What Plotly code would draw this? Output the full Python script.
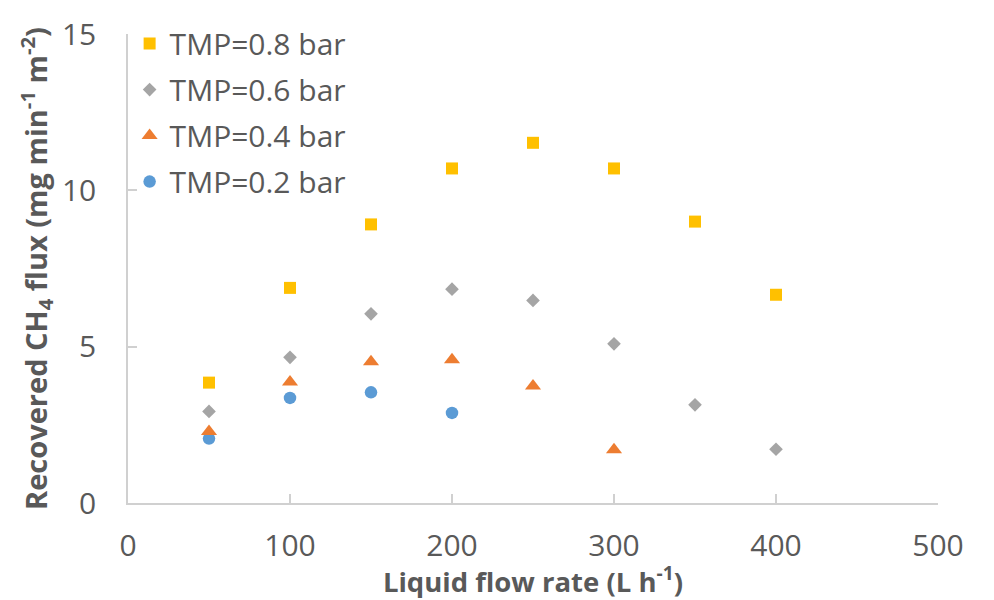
import plotly.graph_objects as go

flow = [50, 100, 150, 200, 250, 300, 350, 400]
tmp08 = [3.85, 6.88, 8.91, 10.70, 11.52, 10.70, 9.00, 6.66]
tmp06 = [2.93, 4.66, 6.05, 6.84, 6.48, 5.09, 3.14, 1.72]
tmp04 = [2.29, 3.87, 4.52, 4.58, 3.74, 1.70]
tmp02 = [2.06, 3.36, 3.54, 2.88]

series = [
    ("TMP=0.2 bar", tmp02, "circle", "#5B9BD5", 12.5, 4),
    ("TMP=0.4 bar", tmp04, "triangle-up", "#ED7D31", 14, 3),
    ("TMP=0.6 bar", tmp06, "diamond", "#A5A5A5", 10.5, 2),
    ("TMP=0.8 bar", tmp08, "square", "#FFC000", 12, 1),
]

FONT = "Open Sans"
TXT = "#595959"
AX = "#D0D0D0"

fig = go.Figure()
for name, ys, sym, col, sz, rank in series:
    fig.add_trace(go.Scatter(
        x=flow[:len(ys)], y=ys, mode="markers", name=name, legendgroup=name,
        legendrank=rank,
        marker=dict(symbol=sym, color=col, size=sz, line=dict(width=0)),
    ))

fig.update_layout(
    width=994, height=600,
    margin=dict(l=128, r=56, t=21, b=97),
    paper_bgcolor="white", plot_bgcolor="white",
    font=dict(family=FONT, color=TXT, size=28),
    showlegend=True,
    legend=dict(x=0.002, y=1.035, xanchor="left", yanchor="top",
                traceorder="grouped", tracegroupgap=4,
                font=dict(family=FONT, size=30, color=TXT),
                bgcolor="rgba(0,0,0,0)", itemsizing="trace"),
    xaxis=dict(range=[0, 500], tickvals=[0, 100, 200, 300, 400, 500],
               showgrid=False, zeroline=False, showline=True, linecolor=AX, linewidth=1.5,
               ticks="inside", ticklen=9, tickcolor=AX, tickwidth=1.5,
               tickfont=dict(size=30, color=TXT), ticklabelstandoff=15,
               title=dict(text="<b>Liquid flow rate (L h<sup>-1</sup>)</b>",
                          font=dict(size=27.5, color=TXT), standoff=3)),
    yaxis=dict(range=[0, 15], tickvals=[0, 5, 10, 15],
               showgrid=False, zeroline=False, showline=True, linecolor=AX, linewidth=1.5,
               ticks="inside", ticklen=9, tickcolor=AX, tickwidth=1.5,
               tickfont=dict(size=30, color=TXT), ticklabelstandoff=24,
               title=dict(text="<b>Recovered CH<sub>4</sub> flux (mg min<sup>-1</sup> m<sup>-2</sup>)</b>",
                          font=dict(size=29, color=TXT), standoff=6)),
)

fig.write_html("out.html")
